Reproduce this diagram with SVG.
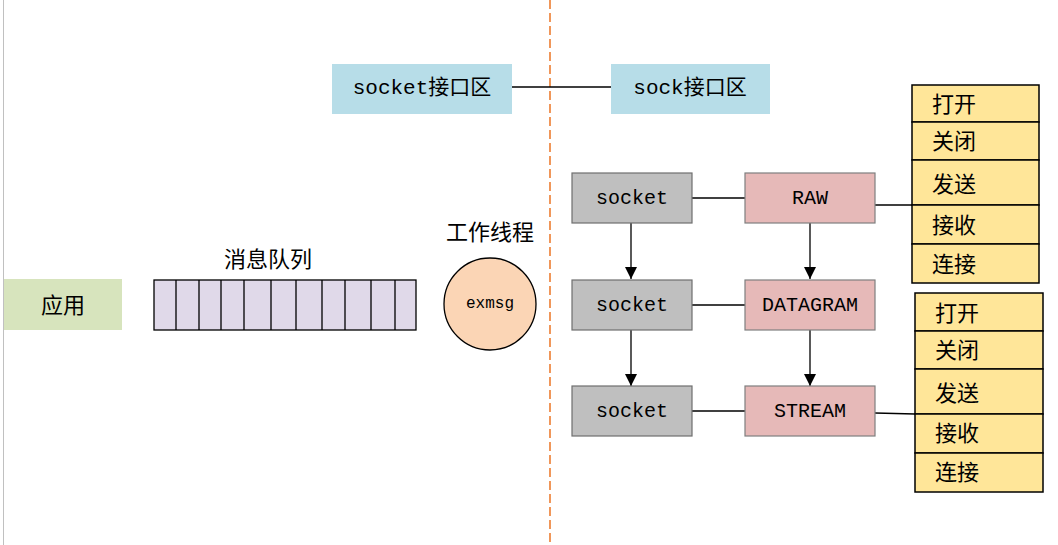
<svg xmlns="http://www.w3.org/2000/svg" width="1058" height="545" viewBox="0 0 1058 545">
<style>
text{font-family:"Liberation Mono","Noto Sans CJK SC",monospace;fill:#000;dominant-baseline:central}
.cjk{font-family:"Noto Sans CJK SC","Liberation Serif",sans-serif;font-size:22px}
.blue{fill:#b7dde8}
.gray{fill:#bfbfbf;stroke:#6f6f6f;stroke-width:1.2}
.red{fill:#e6b9b8;stroke:#7f7f7f;stroke-width:1.2}
.yel{fill:#ffe699;stroke:#000;stroke-width:1.5}
.lav{fill:#e0d9e9;stroke:#000;stroke-width:1.3}
.ln{stroke:#000;stroke-width:1.3;fill:none}
.mono{font-size:20px;text-anchor:middle}
</style>
<defs>
<marker id="arr" viewBox="0 0 12 12" refX="12" refY="6" markerWidth="12" markerHeight="12" markerUnits="userSpaceOnUse" orient="auto">
<path d="M0,0 L12,6 L0,12 z" fill="#000"/>
</marker>
</defs>
<rect width="1058" height="545" fill="#fff"/>
<line x1="3.5" y1="0" x2="3.5" y2="545" stroke="#c0c0c0" stroke-width="1"/>
<line x1="550" y1="0" x2="550" y2="545" stroke="#ed7d31" stroke-width="1.6" stroke-dasharray="9,4"/>

<g id="connectors">
<line class="ln" x1="512" y1="87" x2="611" y2="87"/>
<line class="ln" x1="692" y1="198" x2="745" y2="198"/>
<line class="ln" x1="692" y1="305" x2="745" y2="305"/>
<line class="ln" x1="692" y1="411" x2="745" y2="411"/>
<line class="ln" x1="875" y1="205" x2="912" y2="205"/>
<line class="ln" x1="875" y1="413" x2="915" y2="414"/>
<line class="ln" x1="631" y1="223" x2="631" y2="279" marker-end="url(#arr)"/>
<line class="ln" x1="631" y1="330" x2="631" y2="386" marker-end="url(#arr)"/>
<line class="ln" x1="810" y1="223" x2="810" y2="279" marker-end="url(#arr)"/>
<line class="ln" x1="810" y1="330" x2="810" y2="386" marker-end="url(#arr)"/>
</g>

<g id="socket-if">
<rect class="blue" x="332" y="64" width="180" height="50"/>
<text x="422" y="88" style="font-size:21px" text-anchor="middle">socket接口区</text>
</g>
<g id="sock-if">
<rect class="blue" x="611" y="64" width="159" height="50"/>
<text x="690" y="88" style="font-size:21px" text-anchor="middle">sock接口区</text>
</g>

<g id="app">
<rect x="4" y="279" width="118" height="51" fill="#d7e4bd"/>
<text class="cjk" x="63" y="303" text-anchor="middle">应用</text>
</g>

<g id="queue">
<text class="cjk" x="268" y="257" text-anchor="middle">消息队列</text>
<rect class="lav" x="154" y="280" width="262" height="50"/>
<path class="ln" d="M176,280V330M199,280V330M221,280V330M244,280V330M271,280V330M296,280V330M322,280V330M345,280V330M371,280V330M395,280V330"/>
</g>

<g id="worker">
<text class="cjk" x="490" y="230" text-anchor="middle">工作线程</text>
<circle cx="490" cy="304" r="46" fill="#fbd5b5" stroke="#000" stroke-width="1.3"/>
<text x="490" y="304" style="font-size:16px" text-anchor="middle">exmsg</text>
</g>

<g id="socket1"><rect class="gray" x="572" y="173" width="120" height="50"/><text class="mono" x="632" y="198">socket</text></g>
<g id="socket2"><rect class="gray" x="572" y="280" width="120" height="50"/><text class="mono" x="632" y="305">socket</text></g>
<g id="socket3"><rect class="gray" x="572" y="386" width="120" height="50"/><text class="mono" x="632" y="411">socket</text></g>

<g id="raw"><rect class="red" x="745" y="173" width="130" height="50"/><text class="mono" x="810" y="198">RAW</text></g>
<g id="datagram"><rect class="red" x="745" y="280" width="130" height="50"/><text class="mono" x="810" y="305">DATAGRAM</text></g>
<g id="stream"><rect class="red" x="745" y="386" width="130" height="50"/><text class="mono" x="810" y="411">STREAM</text></g>

<g id="ops1">
<rect class="yel" x="912" y="85" width="127" height="37"/>
<rect class="yel" x="912" y="122" width="127" height="38"/>
<rect class="yel" x="912" y="160" width="127" height="45"/>
<rect class="yel" x="912" y="205" width="127" height="39"/>
<rect class="yel" x="912" y="244" width="127" height="39"/>
<text class="cjk" x="932" y="102">打开</text>
<text class="cjk" x="932" y="139">关闭</text>
<text class="cjk" x="932" y="182">发送</text>
<text class="cjk" x="932" y="223">接收</text>
<text class="cjk" x="932" y="262">连接</text>
</g>

<g id="ops2">
<rect class="yel" x="915" y="293" width="128" height="38"/>
<rect class="yel" x="915" y="331" width="128" height="38"/>
<rect class="yel" x="915" y="369" width="128" height="45"/>
<rect class="yel" x="915" y="414" width="128" height="39"/>
<rect class="yel" x="915" y="453" width="128" height="39"/>
<text class="cjk" x="935" y="311">打开</text>
<text class="cjk" x="935" y="348">关闭</text>
<text class="cjk" x="935" y="391">发送</text>
<text class="cjk" x="935" y="431">接收</text>
<text class="cjk" x="935" y="470">连接</text>
</g>
</svg>
